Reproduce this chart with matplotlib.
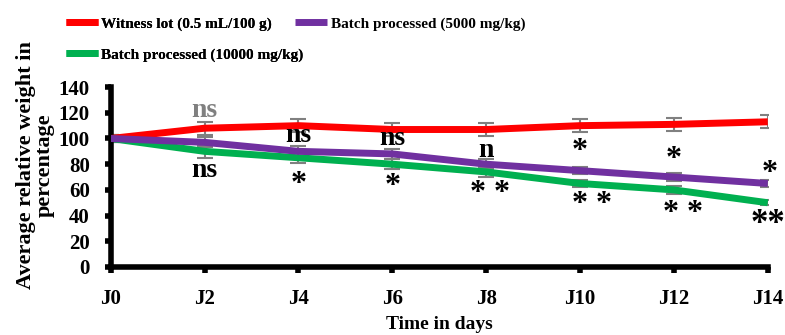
import matplotlib.pyplot as plt
import numpy as np

days = ["J0", "J2", "J4", "J6", "J8", "J10", "J12", "J14"]
witness = [100, 108, 110, 107, 107, 110, 111, 113]
witness_err = [3, 5, 5, 5, 5, 5, 5, 5]
batch_5000 = [100, 97, 90, 88, 80, 75, 70, 65]
batch_5000_err = [3, 4, 4, 4, 4, 3, 3, 3]
batch_10000 = [100, 90, 85, 80, 74, 65, 60, 50]
batch_10000_err = [3, 5, 4, 4, 4, 3, 3, 2]

# significance labels: (day index, y value, text, colour)
marks = [
    (1, 122, "ns", "gray"), (1, 75, "ns", "black"),
    (2, 102.5, "ns", "black"), (2, 64.5, "*", "black"),
    (3, 100, "ns", "black"), (3, 63, "*", "black"),
    (4, 91, "n", "black"), (4, 57.5, "* *", "black"),
    (5, 90, "*", "black"), (5, 48.5, "* *", "black"),
    (6, 84, "*", "black"), (6, 41.5, "* *", "black"),
    (7, 73, "*", "black"), (7, 33, "**", "black"),
]
# small horizontal nudges of the star labels, in days index units
nudge = {(4, "* *"): 0.04, (5, "* *"): 0.13, (6, "* *"): 0.1, (7, "*"): 0.02}

plt.rcParams['font.family'] = ['Liberation Serif', 'DejaVu Serif']
plt.rcParams['font.weight'] = 'bold'

fig = plt.figure(figsize=(7.85, 3.35), dpi=100)
ax = fig.add_axes([0.141, 0.203, 0.837, 0.537])
x = np.arange(len(days))

for vals, errs in [(witness, witness_err), (batch_5000, batch_5000_err), (batch_10000, batch_10000_err)]:
    ax.errorbar(x, vals, yerr=errs, fmt='none', ecolor='gray', capsize=6, elinewidth=1.5, capthick=1.5, zorder=1)
l1, = ax.plot(x, witness, color='#ff0000', lw=5, solid_capstyle='butt', label="Witness lot (0.5 mL/100 g)", zorder=3)
l3, = ax.plot(x, batch_10000, color='#00b050', lw=5, solid_capstyle='butt', label="Batch processed (10000 mg/kg)", zorder=2)
l2, = ax.plot(x, batch_5000, color='#7030a0', lw=5, solid_capstyle='butt', label="Batch processed (5000 mg/kg)", zorder=3)

for i, yv, t, c in marks:
    xi = x[i] + nudge.get((i, t), 0)
    if t == "**":
        ax.text(xi, yv, t, ha='center', va='center', fontsize=25, color=c, fontweight='bold', clip_on=False)
    elif "*" in t:
        ax.text(xi, yv, t, ha='center', va='center', fontsize=23, color=c, fontweight='bold', clip_on=False)
    else:
        ax.text(xi, yv, t, ha='center', va='center', fontsize=20, color=c, fontweight='bold')

ax.set_xlim(0, 7)
ax.set_ylim(0, 140)
ax.set_yticks(np.arange(0, 141, 20))
ax.set_xticks(x, days)
ax.tick_params(axis='both', labelsize=15, width=4, length=4, direction='out')
ax.tick_params(axis='x', pad=12)
ax.tick_params(axis='y', pad=11)
for s in ['top', 'right']:
    ax.spines[s].set_visible(False)
for s in ['left', 'bottom']:
    ax.spines[s].set_linewidth(4)
ax.set_xlabel("Time in days", fontsize=14, fontweight='bold', labelpad=5)
ax.set_ylabel("Average relative weight in\npercentage", fontsize=16, fontweight='bold', linespacing=0.95)
ax.yaxis.set_label_coords(-0.085, 0.565)

leg1 = fig.legend(handles=[l1, l3], loc='upper left', bbox_to_anchor=(0.066, 0.99), frameon=False,
                  fontsize=11, handlelength=2.1, handletextpad=0.25, labelspacing=1.1)
fig.add_artist(leg1)
fig.legend(handles=[l2], loc='upper left', bbox_to_anchor=(0.358, 0.99), frameon=False,
           fontsize=11, handlelength=2.1, handletextpad=0.25)

fig.savefig("out.png", dpi=100)
